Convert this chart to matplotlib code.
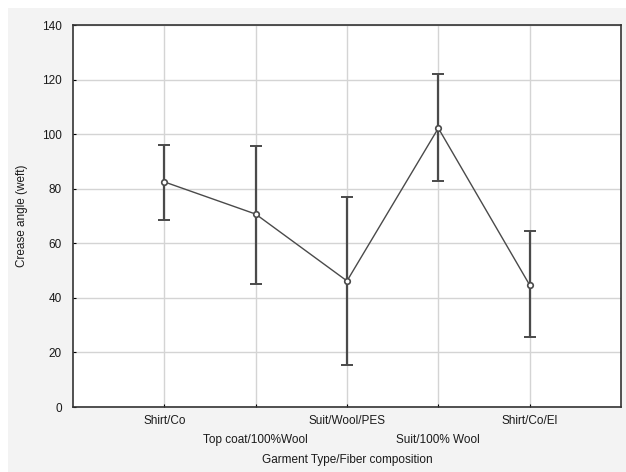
import matplotlib
matplotlib.use('Agg')
import matplotlib.pyplot as plt
from matplotlib.patches import Rectangle

# data
garments = ['Shirt/Co', 'Top coat/100%Wool', 'Suit/Wool/PES', 'Suit/100% Wool', 'Shirt/Co/El']
means = [82.5, 70.7, 46.2, 102.2, 44.7]
upper = [96.0, 95.6, 77.0, 122.0, 64.5]
lower = [68.6, 45.0, 15.4, 82.8, 25.6]

plt.rcParams['font.family'] = ['Liberation Sans', 'DejaVu Sans']

fig = plt.figure(figsize=(6.26, 4.72), dpi=100)
fig.patch.set_facecolor('white')
# gray panel behind the plot
fig.patches.append(Rectangle((8 / 626, 0), 1, 1 - 8 / 472, transform=fig.transFigure,
                             facecolor='#f3f3f3', edgecolor='none', zorder=-10))

ax = fig.add_axes([73 / 626, 1 - 407 / 472, 548 / 626, 382 / 472])
ax.set_facecolor('white')

x = list(range(1, len(garments) + 1))
err_lo = [m - l for m, l in zip(means, lower)]
err_hi = [u - m for m, u in zip(means, upper)]

col = '#4a4a4a'
txt = '#1a1a1a'
ax.plot(x, means, color=col, lw=1.0, zorder=3)
ax.errorbar(x, means, yerr=[err_lo, err_hi], fmt='none', ecolor=col,
            elinewidth=1.6, capsize=4.5, capthick=1.4, zorder=4)
ax.plot(x, means, 'o', ms=4, mfc='white', mec=col, mew=1.2, zorder=5)

ax.set_xlim(0, 6)
ax.set_ylim(0, 140)
ax.set_yticks(range(0, 141, 20))
ax.set_xticks(x)
labels = [g if i % 2 == 0 else '\n' + g for i, g in enumerate(garments)]
ax.set_xticklabels(labels, fontsize=8.5, color=txt, linespacing=1.75)
ax.tick_params(axis='y', labelsize=8.5, labelcolor=txt, length=2, direction='in', pad=8)
ax.tick_params(axis='x', length=2, direction='in', pad=6)

ax.grid(True, color='#d4d4d4', lw=1.0)
ax.set_axisbelow(True)
for s in ax.spines.values():
    s.set_color('#333333')
    s.set_linewidth(1.2)

ax.set_ylabel('Crease angle (weft)', fontsize=8.5, color=txt, labelpad=10)
ax.set_xlabel('Garment Type/Fiber composition', fontsize=8.5, color=txt, labelpad=6)

fig.savefig('out.png', dpi=100, facecolor=fig.get_facecolor())
